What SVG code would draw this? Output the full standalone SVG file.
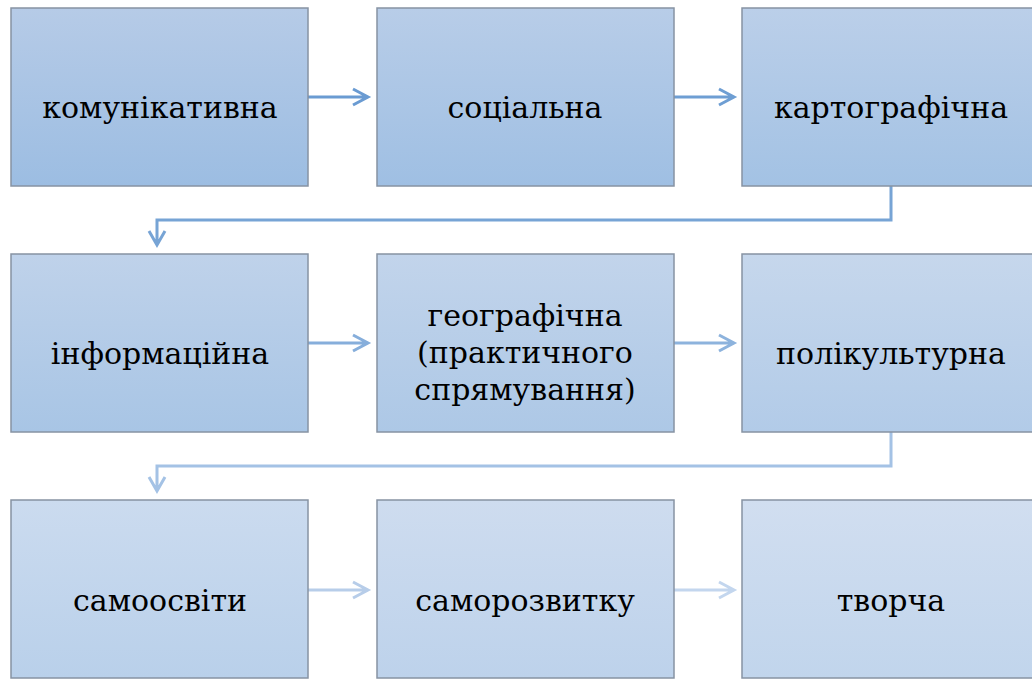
<svg xmlns="http://www.w3.org/2000/svg" width="1032" height="679" viewBox="0 0 1032 679">
<defs>
<linearGradient id="g1" x1="0" y1="0" x2="0" y2="1"><stop offset="0" stop-color="#b6cbe7"/><stop offset="1" stop-color="#9cbde2"/></linearGradient>
<linearGradient id="g2" x1="0" y1="0" x2="0" y2="1"><stop offset="0" stop-color="#b8cde8"/><stop offset="1" stop-color="#9fbfe3"/></linearGradient>
<linearGradient id="g3" x1="0" y1="0" x2="0" y2="1"><stop offset="0" stop-color="#bbcfe9"/><stop offset="1" stop-color="#a3c2e4"/></linearGradient>
<linearGradient id="g4" x1="0" y1="0" x2="0" y2="1"><stop offset="0" stop-color="#bfd2ea"/><stop offset="1" stop-color="#a8c5e5"/></linearGradient>
<linearGradient id="g5" x1="0" y1="0" x2="0" y2="1"><stop offset="0" stop-color="#c2d4eb"/><stop offset="1" stop-color="#adc8e6"/></linearGradient>
<linearGradient id="g6" x1="0" y1="0" x2="0" y2="1"><stop offset="0" stop-color="#c6d7ec"/><stop offset="1" stop-color="#b2cbe8"/></linearGradient>
<linearGradient id="g7" x1="0" y1="0" x2="0" y2="1"><stop offset="0" stop-color="#cbdbef"/><stop offset="1" stop-color="#b9d0ea"/></linearGradient>
<linearGradient id="g8" x1="0" y1="0" x2="0" y2="1"><stop offset="0" stop-color="#cedcef"/><stop offset="1" stop-color="#bdd2eb"/></linearGradient>
<linearGradient id="g9" x1="0" y1="0" x2="0" y2="1"><stop offset="0" stop-color="#d1def0"/><stop offset="1" stop-color="#c1d5ec"/></linearGradient>
</defs>
<style>
.box{stroke:#8793a3;stroke-width:1.5}
.t{font-family:'DejaVu Serif','Liberation Serif',serif;font-size:30px;fill:#000;text-anchor:middle}
.c{fill:none;stroke-width:3;stroke-linecap:butt;stroke-linejoin:miter}
</style>
<g id="connectors">
<path class="c" stroke="#6a9bd2" d="M308,97 H368 M353,89 L368,97 L353,105"/>
<path class="c" stroke="#6e9ed3" d="M674,97 H734 M719,89 L734,97 L719,105"/>
<path class="c" stroke="#77a4d5" d="M891,186 V220 H157 V245 M149,231 L157,245 L165,231"/>
<path class="c" stroke="#86aedb" d="M308,343 H368 M353,335 L368,343 L353,351"/>
<path class="c" stroke="#8db3dd" d="M674,343 H734 M719,335 L734,343 L719,351"/>
<path class="c" stroke="#a4c2e5" d="M891,432 V466 H157 V491 M149,477 L157,491 L165,477"/>
<path class="c" stroke="#b7cde9" d="M308,590 H368 M353,582 L368,590 L353,598"/>
<path class="c" stroke="#c3d6ee" d="M674,590 H734 M719,582 L734,590 L719,598"/>
</g>
<g id="n1"><rect class="box" x="11" y="8" width="297" height="178" fill="url(#g1)"/><text class="t" x="160" y="118">комунікативна</text></g>
<g id="n2"><rect class="box" x="377" y="8" width="297" height="178" fill="url(#g2)"/><text class="t" x="525" y="118">соціальна</text></g>
<g id="n3"><rect class="box" x="742" y="8" width="297" height="178" fill="url(#g3)"/><text class="t" x="891" y="118">картографічна</text></g>
<g id="n4"><rect class="box" x="11" y="254" width="297" height="178" fill="url(#g4)"/><text class="t" x="160" y="364">інформаційна</text></g>
<g id="n5"><rect class="box" x="377" y="254" width="297" height="178" fill="url(#g5)"/><text class="t" x="525" y="326">географічна</text><text class="t" x="525" y="363">(практичного</text><text class="t" x="525" y="400">спрямування)</text></g>
<g id="n6"><rect class="box" x="742" y="254" width="297" height="178" fill="url(#g6)"/><text class="t" x="891" y="364">полікультурна</text></g>
<g id="n7"><rect class="box" x="11" y="500" width="297" height="178" fill="url(#g7)"/><text class="t" x="160" y="611">самоосвіти</text></g>
<g id="n8"><rect class="box" x="377" y="500" width="297" height="178" fill="url(#g8)"/><text class="t" x="525" y="611">саморозвитку</text></g>
<g id="n9"><rect class="box" x="742" y="500" width="297" height="178" fill="url(#g9)"/><text class="t" x="891" y="611">творча</text></g>
</svg>
